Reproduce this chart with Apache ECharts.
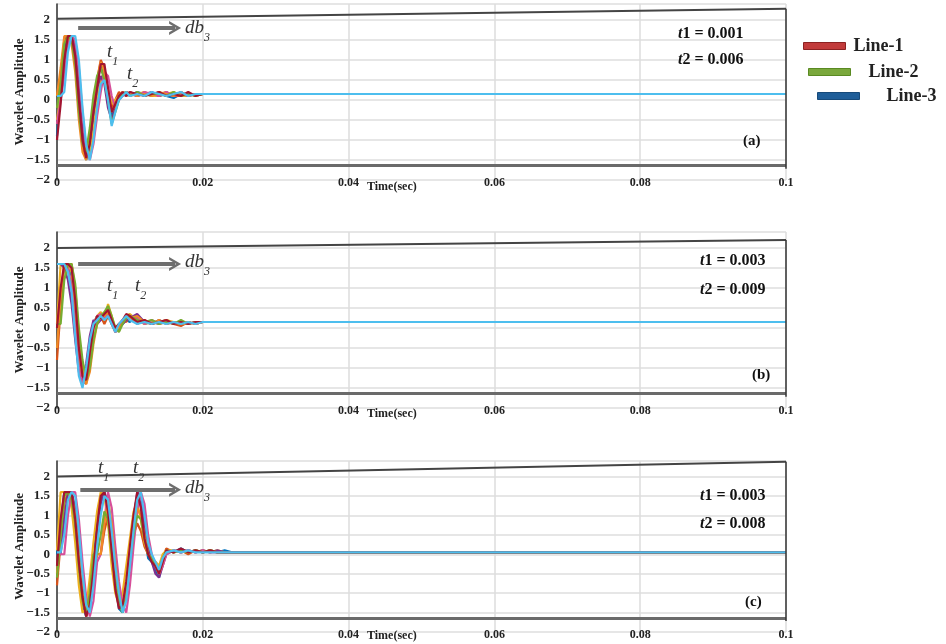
<!DOCTYPE html>
<html><head><meta charset="utf-8">
<script src="https://cdn.jsdelivr.net/npm/echarts@6/dist/echarts.min.js"></script>
<style>html,body{margin:0;padding:0;background:#fff}#c{width:946px;height:644px}</style>
</head><body><div id="c"></div>
<script>
// time samples (sec)
const tAB = [0,0.0005,0.001,0.0015,0.002,0.0025,0.003,0.0035,0.004,0.0045,0.005,0.0055,0.006,0.0065,0.007,0.0075,0.008,0.0085,0.009,0.0095,0.010,0.011,0.012,0.013,0.014,0.015,0.016,0.017,0.018,0.019,0.020,0.021,0.022,0.1];
const tC = [0,0.0005,0.001,0.0015,0.002,0.0025,0.003,0.0035,0.004,0.0045,0.005,0.0055,0.006,0.0065,0.007,0.0075,0.008,0.0085,0.009,0.0095,0.010,0.0105,0.011,0.0115,0.012,0.0125,0.013,0.0135,0.014,0.0145,0.015,0.016,0.017,0.018,0.019,0.020,0.021,0.022,0.023,0.024,0.1];

// panel (a)
const aBlue   = [-0.9,0.3,1.3,1.6,1.6,1.2,0.1,-1.0,-1.5,-1.2, -0.4,0.4,0.9,0.6,-0.1,-0.4,-0.1,0.1,0.15,0.2, 0.1,0.2,0.15,0.1,0.2,0.1,0.05,0.15,0.1,0.15, 0.15,0.15,0.15,0.15];
const aOrange = [0.1,0.6,1.5,1.6,1.55,1.0,-0.2,-1.2,-1.4,-0.9, -0.1,0.5,1.0,0.8,0.2,-0.2,0.0,0.2,0.1,0.2, 0.15,0.1,0.2,0.1,0.15,0.2,0.1,0.1,0.15,0.1, 0.15,0.15,0.15,0.15];
const aYellow = [-0.5,0.1,0.9,1.5,1.6,1.4,0.6,-0.5,-1.3,-1.4, -0.8,0.0,0.5,0.7,0.3,-0.1,0.0,0.1,0.2,0.15, 0.1,0.15,0.2,0.1,0.1,0.15,0.2,0.1,0.1,0.15, 0.15,0.15,0.15,0.15];
const aPurple = [0.1,0.1,0.8,1.6,1.6,1.3,0.3,-0.8,-1.3,-1.0, -0.3,0.3,0.6,0.4,-0.2,-0.5,-0.2,0.1,0.15,0.1, 0.2,0.1,0.15,0.2,0.1,0.15,0.1,0.2,0.1,0.15, 0.15,0.15,0.15,0.15];
const aPink   = [-0.6,0.0,0.6,1.4,1.6,1.5,0.8,-0.3,-1.2,-1.5, -1.1,-0.4,0.2,0.7,0.6,0.1,-0.2,0.0,0.1,0.2, 0.15,0.1,0.2,0.15,0.1,0.2,0.1,0.15,0.1,0.15, 0.15,0.15,0.15,0.15];
const aAmber  = [0.1,0.8,1.6,1.6,1.4,0.7,-0.5,-1.3,-1.5,-1.0, -0.2,0.5,0.95,0.7,0.1,-0.3,-0.1,0.1,0.2,0.1, 0.2,0.1,0.15,0.1,0.2,0.15,0.1,0.2,0.1,0.15, 0.15,0.15,0.15,0.15];
const aGreen  = [-0.2,0.4,1.4,1.6,1.5,0.9,-0.3,-1.1,-1.3,-0.7, 0.1,0.6,0.8,0.5,0.0,-0.6,-0.3,0.0,0.15,0.2, 0.1,0.2,0.1,0.15,0.15,0.1,0.2,0.1,0.15,0.1, 0.15,0.15,0.15,0.15];
const aRed    = [-1.0,-0.1,1.0,1.6,1.6,1.1,0.0,-1.0,-1.45,-1.1, -0.3,0.3,0.9,0.9,0.3,-0.3,-0.1,0.1,0.2,0.1, 0.2,0.15,0.1,0.15,0.2,0.1,0.15,0.1,0.2,0.1, 0.15,0.15,0.15,0.15];
const aCyan   = [0.1,0.1,0.2,1.2,1.6,1.6,1.0,-0.2,-1.1,-1.5, -1.0,-0.2,0.4,0.5,0.0,-0.65,-0.3,0.0,0.1,0.2, 0.1,0.15,0.1,0.2,0.15,0.1,0.15,0.2,0.1,0.15, 0.15,0.15,0.15,0.15];

// panel (b)
const bBlue   = [1.6,1.6,1.6,1.6,1.3,0.2,-0.9,-1.4,-1.2,-0.5, 0.1,0.3,0.2,0.3,0.5,0.2,-0.1,0.0,0.1,0.2, 0.15,0.3,0.1,0.15,0.1,0.2,0.1,0.15,0.1,0.15, 0.15,0.15,0.15,0.15];
const bOrange = [-0.8,0.5,1.6,1.6,1.6,0.8,-0.4,-1.3,-1.4,-0.8, 0.0,0.2,0.3,0.1,0.3,0.1,-0.1,0.05,0.2,0.15, 0.3,0.1,0.2,0.1,0.15,0.2,0.1,0.05,0.15,0.1, 0.15,0.15,0.15,0.15];
const bYellow = [0.1,1.6,1.6,1.6,1.4,0.5,-0.6,-1.3,-1.1,-0.4, 0.1,0.3,0.4,0.2,0.6,0.3,0.0,0.1,0.15,0.3, 0.35,0.2,0.1,0.15,0.1,0.2,0.15,0.1,0.1,0.15, 0.15,0.15,0.15,0.15];
const bPurple = [1.6,1.6,1.5,1.2,0.6,-0.3,-1.1,-1.3,-0.9,-0.2, 0.2,0.1,0.2,0.3,0.4,0.1,-0.05,0.1,0.1,0.2, 0.25,0.35,0.15,0.1,0.2,0.1,0.15,0.1,0.15,0.1, 0.15,0.15,0.15,0.15];
const bPink   = [1.6,1.6,1.6,1.5,1.0,0.0,-1.0,-1.4,-1.3,-0.6, 0.0,0.3,0.35,0.25,0.35,0.15,-0.1,0.05,0.15,0.25, 0.3,0.25,0.1,0.2,0.1,0.15,0.1,0.15,0.1,0.15, 0.15,0.15,0.15,0.15];
const bAmber  = [-0.5,0.8,1.6,1.6,1.6,1.0,-0.2,-1.0,-1.4,-1.1, -0.4,0.1,0.3,0.3,0.4,0.2,-0.05,0.0,0.15,0.3, 0.25,0.3,0.15,0.1,0.2,0.1,0.15,0.1,0.15,0.1, 0.15,0.15,0.15,0.15];
const bGreen  = [0.1,0.1,1.2,1.6,1.6,1.1,0.0,-0.8,-1.3,-1.0, -0.3,0.1,0.3,0.4,0.55,0.3,0.0,-0.1,0.1,0.25, 0.3,0.2,0.15,0.2,0.1,0.15,0.1,0.2,0.1,0.15, 0.15,0.15,0.15,0.15];
const bRed    = [0.0,1.0,1.6,1.6,1.5,0.7,-0.5,-1.2,-1.3,-0.6, 0.0,0.3,0.25,0.35,0.45,0.2,0.0,0.1,0.2,0.35, 0.3,0.15,0.2,0.1,0.15,0.2,0.1,0.15,0.1,0.15, 0.15,0.15,0.15,0.15];
const bCyan   = [1.6,1.6,1.6,1.4,0.9,-0.2,-1.2,-1.5,-1.0,-0.3, 0.1,0.2,0.3,0.2,0.3,0.1,-0.1,0.1,0.2,0.3, 0.2,0.1,0.15,0.1,0.15,0.1,0.15,0.1,0.15,0.1, 0.15,0.15,0.15,0.15];

// panel (c)
const cBlue   = [0.0,0.8,1.6,1.6,1.5,0.7,-0.5,-1.3,-1.6,-1.2, -0.2,0.8,1.4,1.6,1.2,0.2,-0.8,-1.4,-1.5,-0.9, 0.1,1.0,1.5,1.3,0.5,-0.1,-0.2,-0.4,-0.6,-0.2, 0.1,0.05,0.15,0.05,0.1,0.05,0.1,0.05,0.1,0.05, 0.05];
const cOrange = [-0.8,0.3,1.3,1.6,1.6,1.1,0.0,-1.0,-1.6,-1.4, -0.6,0.0,0.0,0.6,1.0,0.3,-0.5,-1.2,-1.4,-0.8, 0.0,0.5,0.8,0.6,0.2,0.0,-0.1,-0.2,-0.3,-0.1, 0.15,0.05,0.1,0.0,0.1,0.05,0.1,0.05,0.05,0.05, 0.05];
const cYellow = [0.1,1.6,1.6,1.6,1.2,0.3,-0.8,-1.5,-1.4,-0.6, 0.3,1.1,1.6,1.5,0.8,-0.3,-1.0,-1.3,-1.0,-0.3, 0.4,1.1,1.3,0.9,0.3,0.0,-0.1,-0.2,-0.3,0.0, 0.1,0.1,0.05,0.1,0.05,0.1,0.05,0.1,0.05,0.05, 0.05];
const cPurple = [0.0,0.0,0.9,1.6,1.6,1.2,0.2,-0.9,-1.5,-1.3, -0.5,0.6,1.3,1.6,1.3,0.4,-0.6,-1.2,-1.4,-1.0, -0.1,0.8,1.6,1.5,0.8,0.2,-0.2,-0.5,-0.6,-0.3, 0.0,0.1,0.05,0.1,0.05,0.1,0.05,0.1,0.05,0.05, 0.05];
const cPink   = [0.0,0.0,0.0,1.0,1.6,1.6,0.9,-0.2,-1.1,-1.6, -1.2,-0.2,0.0,0.9,1.6,1.2,0.2,-0.7,-1.3,-1.5, -0.8,0.2,1.1,1.6,1.3,0.5,0.0,-0.3,-0.5,-0.3, 0.0,0.1,0.05,0.1,0.05,0.1,0.05,0.05,0.05,0.05, 0.05];
const cAmber  = [-0.5,0.6,1.5,1.6,1.5,1.0,0.0,-1.0,-1.5,-1.1, -0.3,0.0,0.0,0.8,1.4,0.8,-0.2,-1.0,-1.4,-0.9, -0.1,0.7,1.2,1.0,0.5,0.0,-0.1,-0.3,-0.5,-0.2, 0.1,0.05,0.1,0.05,0.1,0.05,0.1,0.05,0.05,0.05, 0.05];
const cGreen  = [-0.6,0.5,1.5,1.6,1.4,0.8,-0.3,-1.2,-1.5,-1.0, 0.0,0.0,0.5,1.1,0.9,0.0,-0.7,-1.3,-1.5,-1.1, -0.2,0.5,1.0,0.9,0.4,0.0,-0.1,-0.3,-0.4,-0.1, 0.1,0.05,0.1,0.05,0.1,0.05,0.1,0.05,0.05,0.05, 0.05];
const cRed    = [-0.3,0.9,1.6,1.6,1.6,0.9,-0.2,-1.1,-1.6,-1.3, -0.4,0.7,1.5,1.6,1.1,0.1,-0.9,-1.4,-1.3,-0.7, 0.2,1.0,1.6,1.2,0.4,0.0,-0.2,-0.3,-0.5,-0.2, 0.1,0.05,0.15,0.05,0.1,0.05,0.1,0.05,0.05,0.05, 0.05];
const cCyan   = [0.05,0.05,0.5,1.4,1.6,1.5,0.6,-0.5,-1.3,-1.5, -0.8,0.2,1.0,1.5,1.4,0.6,-0.3,-1.0,-1.5,-1.2, -0.3,0.6,1.4,1.6,1.0,0.3,0.0,-0.2,-0.4,-0.1, 0.05,0.1,0.05,0.1,0.05,0.05,0.05,0.05,0.05,0.05, 0.05];

const xTicks = [0, 0.02, 0.04, 0.06, 0.08, 0.1];
const yTicks = [-2, -1.5, -1, -0.5, 0, 0.5, 1, 1.5, 2];
const legendNames = ['Line-1', 'Line-2', 'Line-3'];
const panelTags = ['(a)', '(b)', '(c)'];
const t1Vals = ['0.001', '0.003', '0.003'];
const t2Vals = ['0.006', '0.009', '0.008'];

const SERIF = "'Liberation Serif','Times New Roman',serif";
const COL = {blue:'#0072BD', orange:'#D95319', yellow:'#EDB120', purple:'#7E2F8E', pink:'#D64F9A', amber:'#F08A24', green:'#77AC30', red:'#A2142F', cyan:'#4DBEEE'};

const grids = [
  {left:57, right:160, top:4, height:176, outerBoundsMode:'none', containLabel:false},
  {left:57, right:160, top:232, height:176, outerBoundsMode:'none', containLabel:false},
  {left:57, right:160, top:461, height:171, outerBoundsMode:'none', containLabel:false}
];

function mkSeries(name, t, v, color, idx) {
  return {
    name: name, type: 'line', xAxisIndex: idx, yAxisIndex: idx,
    data: t.map((x, i) => [x, v[i]]),
    symbol: 'none', lineStyle: {width: 2.2, color: color}, itemStyle: {color: color},
    animation: false, silent: true
  };
}

const chevron = 'path://M0,20 L10,0 L20,20 L16,20 L10,8 L4,20 Z';
function ls(color, width) { return {color: color, width: width, type: 'solid'}; }
function frameMarks(topL, topR, arrowY, arrowX0) {
  return {
    silent: true, animation: false, symbol: ['none', 'none'], label: {show: false},
    lineStyle: {type: 'solid'},
    data: [
      [{coord: [0, topL], lineStyle: ls('#444', 2)}, {coord: [0.1, topR]}],
      [{coord: [0, -1.64], lineStyle: ls('#6a6a6a', 3)}, {coord: [0.1, -1.64]}],
      [{coord: [0.1, -1.72], lineStyle: ls('#333', 1.5)}, {coord: [0.1, topR]}],
      [{coord: [arrowX0, arrowY], lineStyle: ls('#6e6e6e', 4)}, {coord: [0.0162, arrowY], symbol: chevron, symbolSize: [14, 12]}]
    ]
  };
}

const panels = [
  {t: tAB, s: [['a-blue', aBlue, COL.blue], ['a-orange', aOrange, COL.orange], ['a-yellow', aYellow, COL.yellow], ['a-purple', aPurple, COL.purple], ['a-pink', aPink, COL.pink], ['a-amber', aAmber, COL.amber], ['Line-2', aGreen, COL.green], ['Line-1', aRed, COL.red], ['Line-3', aCyan, COL.cyan]], mk: frameMarks(2.03, 2.28, 1.8, 0.0029)},
  {t: tAB, s: [['b-blue', bBlue, COL.blue], ['b-orange', bOrange, COL.orange], ['b-yellow', bYellow, COL.yellow], ['b-purple', bPurple, COL.purple], ['b-pink', bPink, COL.pink], ['b-amber', bAmber, COL.amber], ['b-green', bGreen, COL.green], ['b-red', bRed, COL.red], ['b-cyan', bCyan, COL.cyan]], mk: frameMarks(2.0, 2.2, 1.6, 0.0029)},
  {t: tC, s: [['c-blue', cBlue, COL.blue], ['c-orange', cOrange, COL.orange], ['c-yellow', cYellow, COL.yellow], ['c-purple', cPurple, COL.purple], ['c-pink', cPink, COL.pink], ['c-amber', cAmber, COL.amber], ['c-green', cGreen, COL.green], ['c-red', cRed, COL.red], ['c-cyan', cCyan, COL.cyan]], mk: frameMarks(2.0, 2.38, 1.66, 0.0032)}
];

const series = [];
panels.forEach((p, idx) => {
  p.s.forEach((d, k) => {
    const s = mkSeries(d[0], p.t, d[1], d[2], idx);
    if (k === 0) s.markLine = p.mk;
    series.push(s);
  });
});

const xAxes = grids.map((g, i) => ({
  type: 'value', gridIndex: i, min: xTicks[0], max: xTicks[xTicks.length - 1], interval: 0.02,
  axisLine: {show: false}, axisTick: {show: false},
  splitLine: {show: true, lineStyle: {color: '#dcdcdc', width: 1.5}},
  axisLabel: {margin: -3, fontFamily: SERIF, fontWeight: 'bold', fontSize: 12, color: '#222',
    formatter: v => String(parseFloat(v.toFixed(2)))}
}));
const yAxes = grids.map((g, i) => ({
  type: 'value', gridIndex: i, min: yTicks[0], max: 2.4, interval: 0.5,
  name: 'Wavelet Amplitude', nameLocation: 'middle', nameGap: 31, nameRotate: 90, nameMoveOverlap: false,
  nameTextStyle: {fontFamily: SERIF, fontWeight: 'bold', fontSize: 13, color: '#222'},
  axisLine: {show: true, lineStyle: {color: '#333', width: 1.5}}, axisTick: {show: false},
  splitLine: {show: true, lineStyle: {color: '#e6e6e6', width: 2}},
  axisLabel: {showMaxLabel: false, margin: 7, fontFamily: SERIF, fontWeight: 'bold', fontSize: 13, color: '#222',
    formatter: v => (yTicks.indexOf(Math.round(v * 100) / 100) >= 0 ? String(v).replace('-', '\u2212') : '')}
}));

const infoRich = {i: {fontFamily: SERIF, fontStyle: 'italic', fontWeight: 'bold', fontSize: 16, color: '#111'}};
const subRich = {
  m: {fontFamily: SERIF, fontStyle: 'italic', fontWeight: 'normal', fontSize: 19, color: '#333', lineHeight: 26, verticalAlign: 'top'},
  s: {fontFamily: SERIF, fontStyle: 'italic', fontWeight: 'normal', fontSize: 12, color: '#333', lineHeight: 24, verticalAlign: 'bottom'}
};
function txt(text, left, top, style) {
  return {text: text, left: left, top: top, padding: 0, textStyle: Object.assign({fontFamily: SERIF, fontWeight: 'bold', fontSize: 16, color: '#111'}, style || {})};
}
const infoPos = [[678, 26, 52, 743, 134], [700, 253, 282, 752, 368], [700, 488, 516, 745, 595]];
const timePos = [181, 408, 630];
const dbTop = [18, 252, 478];
const tLab = [[107, 42, 127, 64], [107, 276, 135, 276], [98, 458, 133, 458]];
const titles = [];
for (let i = 0; i < 3; i++) {
  const ip = infoPos[i];
  titles.push(txt('{i|t}1 = ' + t1Vals[i], ip[0], ip[1], {rich: infoRich}));
  titles.push(txt('{i|t}2 = ' + t2Vals[i], ip[0], ip[2], {rich: infoRich}));
  titles.push(txt(panelTags[i], ip[3], ip[4], {fontSize: 15}));
  titles.push(txt('Time(sec)', 367, timePos[i], {fontSize: 12, color: '#222'}));
  titles.push(txt('{m|db}{s|3}', 185, dbTop[i], {fontWeight: 'normal', rich: subRich}));
  const tl = tLab[i];
  titles.push(txt('{m|t}{s|1}', tl[0], tl[1], {fontWeight: 'normal', rich: subRich}));
  titles.push(txt('{m|t}{s|2}', tl[2], tl[3], {fontWeight: 'normal', rich: subRich}));
}

const legendStyle = [
  {color: '#c23b3b', borderColor: '#8c2222'},
  {color: '#7aa83c', borderColor: '#5a8a22'},
  {color: '#1f5e99', borderColor: '#174a7a'}
];
const legendPos = [[803, 37, 3], [808, 63, 13], [817, 87, 22]];
const legends = legendNames.map((n, i) => ({
  left: legendPos[i][0], top: legendPos[i][1], orient: 'horizontal', selectedMode: false,
  icon: 'rect', itemWidth: 42, itemHeight: 7, padding: 0,
  data: [{name: n, itemStyle: Object.assign({borderWidth: 1}, legendStyle[i])}],
  textStyle: {fontFamily: SERIF, fontWeight: 'bold', fontSize: 18, color: '#222', padding: [0, 0, 0, legendPos[i][2]]}
}));

const chart = echarts.init(document.getElementById('c'), null, {renderer: 'canvas'});
chart.setOption({
  backgroundColor: '#fff',
  animation: false,
  title: titles,
  legend: legends,
  grid: grids,
  xAxis: xAxes,
  yAxis: yAxes,
  series: series
});
</script></body></html>
